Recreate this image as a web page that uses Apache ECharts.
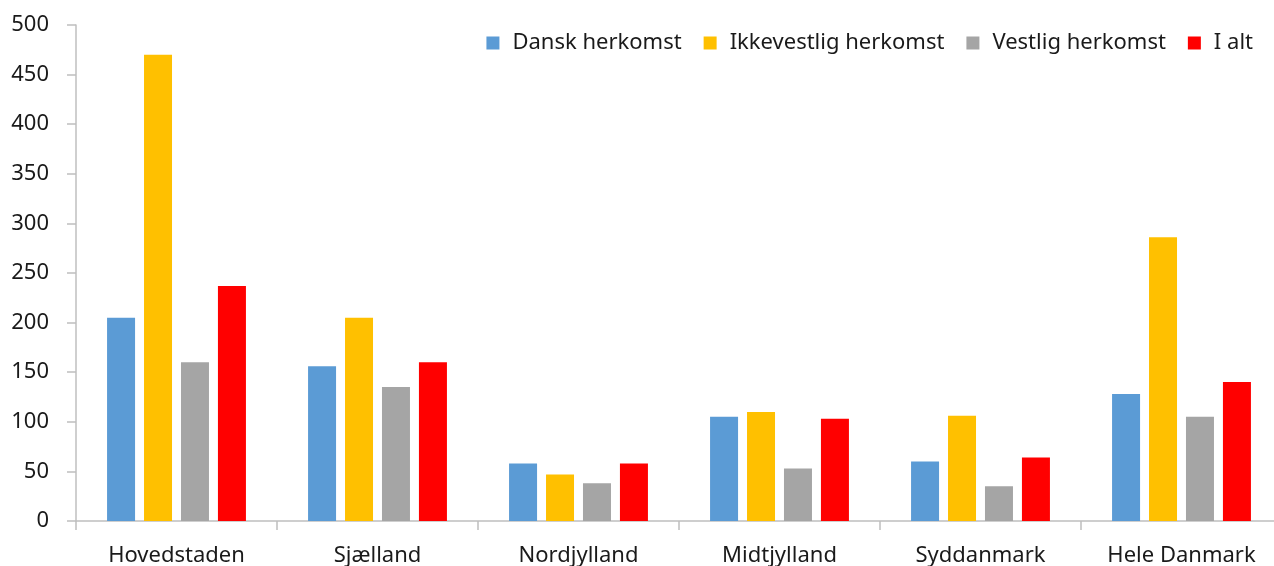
<!DOCTYPE html>
<html>
<head>
<meta charset="utf-8">
<script src="https://cdn.jsdelivr.net/npm/echarts@6/dist/echarts.min.js"></script>
<style>
html,body{margin:0;padding:0;background:#fff;overflow:hidden;width:1274px;height:566px;}
#chart{width:1282px;height:566px;}
</style>
</head>
<body>
<div id="chart"></div>
<script>
const categories = ['Hovedstaden', 'Sjælland', 'Nordjylland', 'Midtjylland', 'Syddanmark', 'Hele Danmark'];
const seriesNames = ['Dansk herkomst', 'Ikkevestlig herkomst', 'Vestlig herkomst', 'I alt'];
const danskHerkomst = [205, 156, 58, 105, 60, 128];
const ikkevestligHerkomst = [470, 205, 47, 110, 106, 286];
const vestligHerkomst = [160, 135, 38, 53, 35, 105];
const iAlt = [237, 160, 58, 103, 64, 140];
const yTicks = [0, 50, 100, 150, 200, 250, 300, 350, 400, 450, 500];

const colors = ['#5B9BD5', '#FFC000', '#A5A5A5', '#FF0000'];
const dataSets = [danskHerkomst, ikkevestligHerkomst, vestligHerkomst, iAlt];
const font = 'Noto Sans';
const textColor = '#1a1a1a';

const chart = echarts.init(document.getElementById('chart'), null, {renderer: 'canvas'});
chart.setOption({
  animation: false,
  backgroundColor: '#fff',
  color: colors,
  grid: {left: 76, right: 0, top: 25, bottom: 45, containLabel: false, outerBoundsMode: 'none'},
  legend: {
    data: seriesNames,
    right: 24,
    top: 27,
    itemWidth: 13,
    itemHeight: 13,
    itemGap: 22,
    icon: 'rect',
    textStyle: {fontFamily: font, fontSize: 22, color: textColor, padding: [0, 0, 0, 8]}
  },
  xAxis: {
    type: 'category',
    data: categories,
    axisLine: {lineStyle: {color: '#BFBFBF', width: 1.5}},
    axisTick: {show: true, length: 9, alignWithLabel: false, lineStyle: {color: '#BFBFBF', width: 1.5}},
    axisLabel: {fontFamily: font, fontSize: 22, color: textColor, margin: 24},
    splitLine: {show: false}
  },
  yAxis: {
    type: 'value',
    min: yTicks[0],
    max: yTicks[yTicks.length - 1],
    interval: yTicks[1] - yTicks[0],
    axisLine: {show: true, lineStyle: {color: '#BFBFBF', width: 1.5}},
    axisTick: {show: true, length: 9, lineStyle: {color: '#BFBFBF', width: 1.5}},
    axisLabel: {fontFamily: font, fontSize: 22, color: textColor, margin: 27},
    splitLine: {show: false}
  },
  series: seriesNames.map((name, i) => ({
    name: name,
    type: 'bar',
    data: dataSets[i],
    barWidth: 28,
    barGap: '32%',
    itemStyle: {color: colors[i]}
  }))
});
</script>
</body>
</html>
